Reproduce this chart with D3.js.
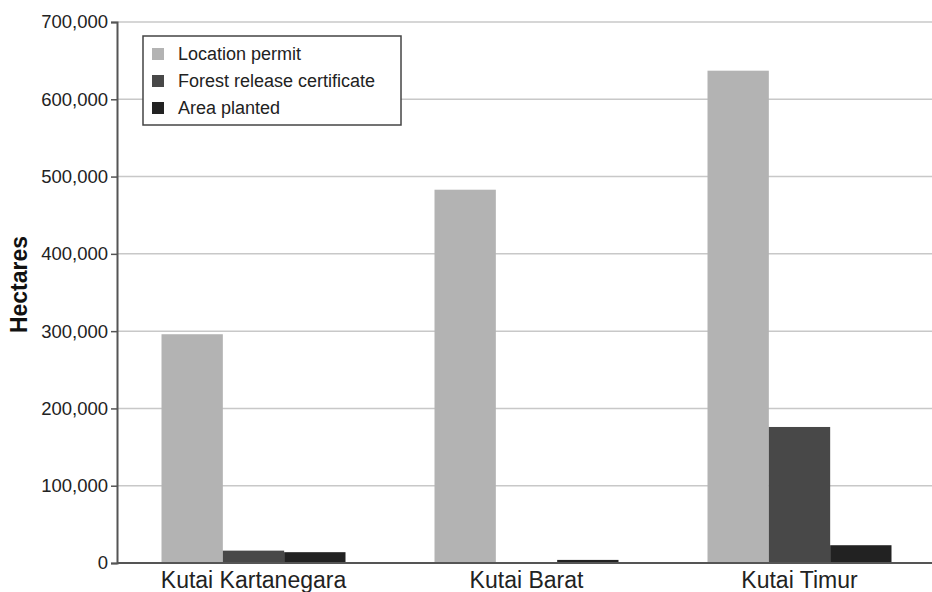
<!DOCTYPE html>
<html>
<head>
<meta charset="utf-8">
<script src="https://d3js.org/d3.v7.min.js"></script>
<style>
  body { margin: 0; background: #fff; }
  svg { font-family: "Liberation Sans", Arial, sans-serif; }
</style>
</head>
<body>
<div id="chart"></div>
<script>
  // regencies and the three measures, in hectares
  const regencies = ["Kutai Kartanegara", "Kutai Barat", "Kutai Timur"];
  const seriesNames = ["Location permit", "Forest release certificate", "Area planted"];
  const locationPermit = [296000, 483000, 637000];
  const forestRelease = [16000, 0, 176000];
  const areaPlanted = [14000, 4000, 23000];
  const yTicks = [0, 100000, 200000, 300000, 400000, 500000, 600000, 700000];
  const colors = ["#b3b3b3", "#484848", "#222222"];

  const w = 932, h = 592;
  const plotLeft = 117, plotRight = 936, plotTop = 22, plotBottom = 563;

  const svg = d3.select("#chart")
    .append("svg")
      .attr("width", w)
      .attr("height", h);

  const x = d3.scaleBand()
    .domain(regencies)
    .range([plotLeft, plotRight])
    .paddingInner(0.326)
    .paddingOuter(0.163);

  const xs = d3.scaleBand()
    .domain(seriesNames)
    .range([0, x.bandwidth()]);

  const y = d3.scaleLinear()
    .domain([0, 700000])
    .range([plotBottom, plotTop]);

  // grid
  svg.append("g")
    .selectAll("line")
    .data(yTicks.slice(1))
    .join("line")
      .attr("x1", plotLeft)
      .attr("x2", w)
      .attr("y1", d => y(d))
      .attr("y2", d => y(d))
      .attr("stroke", "#c8c8c8")
      .attr("stroke-width", 1.5);

  // bars
  const table = regencies.map((r, i) => ({
    regency: r,
    values: [locationPermit[i], forestRelease[i], areaPlanted[i]]
  }));

  svg.append("g")
    .selectAll("g")
    .data(table)
    .join("g")
      .attr("transform", d => `translate(${x(d.regency)},0)`)
    .selectAll("rect")
    .data(d => d.values.map((v, j) => ({ name: seriesNames[j], value: v, j: j })))
    .join("rect")
      .attr("x", d => xs(d.name))
      .attr("width", xs.bandwidth())
      .attr("y", d => y(d.value))
      .attr("height", d => plotBottom - y(d.value))
      .attr("fill", d => colors[d.j]);

  // y axis
  const yAxis = svg.append("g")
    .attr("transform", `translate(${plotLeft},0)`)
    .call(d3.axisLeft(y).tickValues(yTicks).tickFormat(d3.format(",")).tickSize(6).tickPadding(3));
  yAxis.select(".domain").attr("stroke", "#555").attr("stroke-width", 2);
  yAxis.selectAll(".tick line").attr("stroke", "#555").attr("stroke-width", 1.5);
  yAxis.selectAll("text")
    .attr("font-size", "18.5px")
    .attr("fill", "#222")
    .style("font-family", "'Liberation Sans', Arial, sans-serif");

  // x axis
  const xAxis = svg.append("g")
    .attr("transform", `translate(0,${plotBottom})`)
    .call(d3.axisBottom(x).tickSize(0).tickPadding(9));
  xAxis.select(".domain").attr("stroke", "#555").attr("stroke-width", 2)
    .attr("d", `M${plotLeft},0H${w}`);
  xAxis.selectAll("text")
    .attr("font-size", "23px")
    .attr("fill", "#222")
    .style("font-family", "'Liberation Sans', Arial, sans-serif");

  // y label
  svg.append("text")
    .attr("transform", `translate(27,284.5) rotate(-90)`)
    .attr("text-anchor", "middle")
    .attr("font-size", "23px")
    .attr("font-weight", "bold")
    .attr("fill", "#111")
    .text("Hectares");

  // legend
  const legend = svg.append("g").attr("transform", "translate(143,36)");
  legend.append("rect")
    .attr("width", 258)
    .attr("height", 89)
    .attr("fill", "#fff")
    .attr("stroke", "#444")
    .attr("stroke-width", 1.5);
  const items = legend.selectAll("g.item")
    .data(seriesNames)
    .join("g")
      .attr("class", "item")
      .attr("transform", (d, i) => `translate(0,${18 + i * 27})`);
  items.append("rect")
    .attr("x", 9)
    .attr("y", -6)
    .attr("width", 12)
    .attr("height", 12)
    .attr("fill", (d, i) => colors[i]);
  items.append("text")
    .attr("x", 35)
    .attr("dy", "0.35em")
    .attr("font-size", "18px")
    .attr("fill", "#222")
    .text(d => d);
</script>
</body>
</html>
